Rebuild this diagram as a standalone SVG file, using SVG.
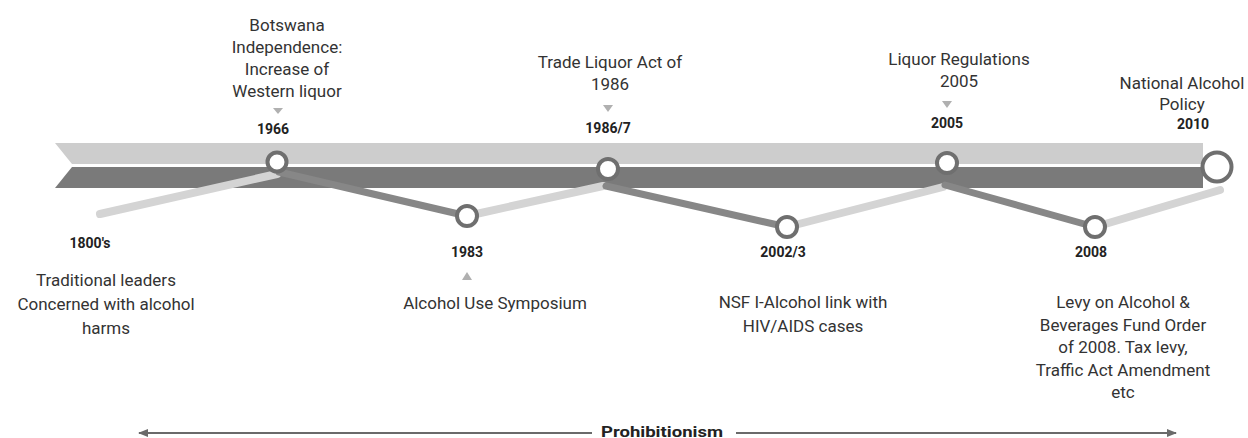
<svg xmlns="http://www.w3.org/2000/svg" width="1248" height="438" viewBox="0 0 1248 438">
<defs>
<style>
.t{font-family:Roboto,"Liberation Sans",sans-serif;font-size:17px;fill:#333;text-anchor:middle}
.y{font-family:Roboto,"Liberation Sans",sans-serif;font-size:14px;font-weight:bold;fill:#222;text-anchor:middle}
.lt{stroke:#d4d4d4;stroke-width:8;stroke-linecap:round;fill:none}
.dk{stroke:#878787;stroke-width:7;stroke-linecap:round;fill:none}
.c{fill:#fff;stroke:#6f6f6f;stroke-width:4}
.tri{fill:#b0b0b0}
.ar{stroke:#6a6a6a;stroke-width:2;fill:none}
</style>
<marker id="ah" viewBox="0 0 10 10" refX="9" refY="5" markerWidth="5" markerHeight="5" orient="auto-start-reverse">
<path d="M0,1 L10,5 L0,9 z" fill="#6a6a6a"/>
</marker>
</defs>
<rect width="1248" height="438" fill="#fff"/>

<g id="band">
<polygon points="55,143 1203,143 1203,164 72,164" fill="#cdcdcd"/>
<polygon points="72,167 1203,167 1203,188 55,188" fill="#7a7a7a"/>
</g>

<g id="connectors">
<line class="lt" x1="100" y1="214" x2="277" y2="174"/>
<line class="dk" x1="279" y1="172" x2="467" y2="216"/>
<line class="lt" x1="467" y1="216" x2="603" y2="186"/>
<line class="dk" x1="606" y1="186" x2="787" y2="227"/>
<line class="lt" x1="787" y1="227" x2="943" y2="187"/>
<line class="dk" x1="945" y1="185" x2="1095" y2="227"/>
<line class="lt" x1="1095" y1="227" x2="1220" y2="190"/>
</g>

<g id="n1800">
<text class="y" x="90" y="248">1800's</text>
<text class="t" x="106" y="286">Traditional leaders</text>
<text class="t" x="106" y="310">Concerned with alcohol</text>
<text class="t" x="106" y="334">harms</text>
</g>

<g id="n1966">
<text class="t" x="287" y="31">Botswana</text>
<text class="t" x="287" y="53">Independence:</text>
<text class="t" x="287" y="75">Increase of</text>
<text class="t" x="287" y="97">Western liquor</text>
<polygon class="tri" points="273,108 283,108 278,114"/>
<text class="y" x="273" y="134">1966</text>
<circle class="c" cx="277" cy="162" r="9.5" stroke="#5e5e5e"/>
</g>

<g id="n1983">
<circle class="c" cx="467" cy="216" r="10" stroke="#5e5e5e"/>
<text class="y" x="467" y="257">1983</text>
<polygon class="tri" points="462,280 472,280 467,272"/>
<text class="t" x="495" y="309">Alcohol Use Symposium</text>
</g>

<g id="n1986">
<text class="t" x="610" y="68">Trade Liquor Act of</text>
<text class="t" x="610" y="90">1986</text>
<polygon class="tri" points="603,105 613,105 608,112"/>
<text class="y" x="608" y="133">1986/7</text>
<circle class="c" cx="608" cy="169" r="10" stroke="#888"/>
</g>

<g id="n2002">
<circle class="c" cx="787" cy="227" r="10" stroke="#767676"/>
<text class="y" x="783" y="257">2002/3</text>
<text class="t" x="803" y="308">NSF I-Alcohol link with</text>
<text class="t" x="803" y="332">HIV/AIDS cases</text>
</g>

<g id="n2005">
<text class="t" x="959" y="65">Liquor Regulations</text>
<text class="t" x="959" y="87">2005</text>
<polygon class="tri" points="942,101 952,101 947,108"/>
<text class="y" x="947" y="128">2005</text>
<circle class="c" cx="947" cy="163" r="10" stroke="#848484"/>
</g>

<g id="n2008">
<circle class="c" cx="1095" cy="227" r="10" stroke="#767676"/>
<text class="y" x="1091" y="257">2008</text>
<text class="t" x="1123" y="308">Levy on Alcohol &amp;</text>
<text class="t" x="1123" y="331">Beverages Fund Order</text>
<text class="t" x="1123" y="353">of 2008. Tax levy,</text>
<text class="t" x="1123" y="376">Traffic Act Amendment</text>
<text class="t" x="1123" y="398">etc</text>
</g>

<g id="n2010">
<text class="t" x="1182" y="89">National Alcohol</text>
<text class="t" x="1182" y="110">Policy</text>
<text class="y" x="1193" y="129">2010</text>
<circle class="c" cx="1217" cy="167" r="14.5" stroke="#767676"/>
</g>

<g id="prohibitionism">
<line class="ar" x1="592" y1="433" x2="139" y2="433" marker-end="url(#ah)"/>
<line class="ar" x1="736" y1="433" x2="1176" y2="433" marker-end="url(#ah)"/>
<text class="y" x="662" y="437" font-size="17" textLength="122" lengthAdjust="spacingAndGlyphs">Prohibitionism</text>
</g>
</svg>
